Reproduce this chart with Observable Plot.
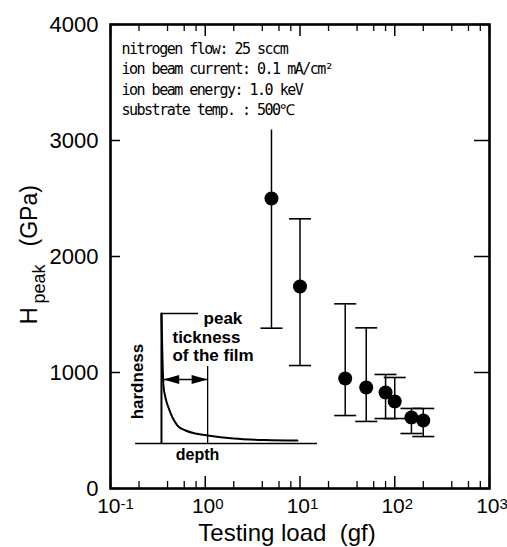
<!DOCTYPE html>
<html><head><meta charset="utf-8">
<script src="https://cdn.jsdelivr.net/npm/d3@7"></script>
<script src="https://cdn.jsdelivr.net/npm/@observablehq/plot@0.6"></script>
<style>
body{margin:0;background:#fff}
#chart svg{display:block}
svg text{white-space:pre}
svg g[font-family*="Mono"] text{letter-spacing:-1.5px}
</style>
</head><body><div id="chart"></div>
<script>
// ---- data ----
const loads = [5, 10, 30, 50, 80, 100, 150, 200];
const hPeak = [2500, 1741, 948, 871, 828, 750, 612, 586];
const hHigh = [3090, 2325, 1592, 1385, 983, 957, 690, 690];
const hLow  = [1382, 1060, 629, 578, 603, 603, 474, 448];
const topCapped = [false, true, true, true, true, true, true, true];

const yTicks = [0, 1000, 2000, 3000, 4000];
const xDecades = [0.1, 1, 10, 100, 1000];
const xExponents = ["-1", "0", "1", "2", "3"];
const xMinor = [0.2,0.4,0.6,0.8, 2,4,6,8, 20,40,60,80, 200,400,600,800];

const conditions = [
  "nitrogen flow: 25 sccm",
  "ion beam current: 0.1 mA/cm²",
  "ion beam energy: 1.0 keV",
  "substrate temp. : 500℃"
];

// inset schematic (hardness vs depth), in chart data units
const curveX = [0.345, 0.354, 0.362, 0.38, 0.409, 0.451, 0.509, 0.62, 0.789, 1.06, 1.99, 4.32, 9.4];
const curveY = [1509, 1103, 888, 784, 698, 612, 543, 500, 474, 457, 431, 418, 414];
const insetBaseX = [0.184, 15.3];
const insetBaseY = 388;
const insetAxisX = 0.345;
const insetTopY = 1509;
const peakLeaderX2 = 0.85;
const filmX = 1.06;
const filmTopY = 1052;
const arrowY = 940;
const arrowX = [0.36, 1.06];
const insetLabels = [
  {x: 0.96, y: 1466, text: "peak"},
  {x: 0.451, y: 1302, text: "tickness"},
  {x: 0.451, y: 1147, text: "of the film"}
];
const hardnessLabel = {x: 0.193, y: 922, text: "hardness"};
const depthLabel = {x: 0.828, y: 293, text: "depth"};

// ---- layout ----
const W = 507, H = 547;
const mL = 110, mR = 18, mT = 24, mB = 59;
const innerW = W - mL - mR;
const innerH = H - mT - mB;
const sans = "'Liberation Sans', Arial, Helvetica, sans-serif";
const mono = "'DejaVu Sans Mono', 'Liberation Mono', monospace";

const pts = loads.map((x, i) => ({x, y: hPeak[i], hi: hHigh[i], lo: hLow[i], cap: topCapped[i]}));
const curve = curveX.map((x, i) => ({x, y: curveY[i]}));

const capSymbol = {draw(ctx) { ctx.moveTo(-11, 0); ctx.lineTo(11, 0); }};
const headSymbol = {draw(ctx) { ctx.moveTo(8, 0); ctx.lineTo(-8, -4.5); ctx.lineTo(-8, 4.5); ctx.closePath(); }};

const chart = Plot.plot({
  width: W, height: H,
  marginLeft: mL, marginRight: mR, marginTop: mT, marginBottom: mB,
  x: {type: "log", domain: [0.1, 1000], axis: null},
  y: {domain: [0, 4000], axis: null},
  style: {fontFamily: sans, background: "#fff", color: "#000"},
  marks: [
    // inset schematic
    Plot.ruleY([insetBaseY], {x1: insetBaseX[0], x2: insetBaseX[1], stroke: "#000", strokeWidth: 1.5}),
    Plot.ruleX([insetAxisX], {y1: insetBaseY, y2: insetTopY, stroke: "#000", strokeWidth: 2}),
    Plot.ruleY([insetTopY], {x1: insetAxisX, x2: peakLeaderX2, stroke: "#000", strokeWidth: 1.5}),
    Plot.ruleX([filmX], {y1: insetBaseY, y2: filmTopY, stroke: "#000", strokeWidth: 1.3}),
    Plot.line(curve, {x: "x", y: "y", curve: "monotone-x", stroke: "#000", strokeWidth: 2}),
    Plot.ruleY([arrowY], {x1: arrowX[0], x2: arrowX[1], stroke: "#000", strokeWidth: 1.5}),
    Plot.dot([arrowX[1]], {x: d => d, y: arrowY, dx: -8, symbol: headSymbol, fill: "#000", stroke: "none"}),
    Plot.dot([arrowX[0]], {x: d => d, y: arrowY, dx: 8, rotate: 180, symbol: headSymbol, fill: "#000", stroke: "none"}),
    Plot.text(insetLabels, {x: "x", y: "y", text: "text", textAnchor: "start", fontSize: 17, fontWeight: "bold"}),
    Plot.text([hardnessLabel], {x: "x", y: "y", text: "text", rotate: -90, fontSize: 17, fontWeight: "bold"}),
    Plot.text([depthLabel], {x: "x", y: "y", text: "text", fontSize: 16, fontWeight: "bold"}),

    // condition annotations
    Plot.text([conditions.join("\n")], {frameAnchor: "top-left", textAnchor: "start", lineAnchor: "top",
      lineHeight: 1.36, dx: 11, dy: 15, fontFamily: mono, fontSize: 15}),

    // error bars
    Plot.ruleX(pts, {x: "x", y1: "lo", y2: "hi", stroke: "#000", strokeWidth: 1.5}),
    Plot.dot(pts.filter(d => d.cap), {x: "x", y: "hi", symbol: capSymbol, stroke: "#000", fill: "none", strokeWidth: 1.6}),
    Plot.dot(pts, {x: "x", y: "lo", symbol: capSymbol, stroke: "#000", fill: "none", strokeWidth: 1.6}),
    Plot.dot(pts, {x: "x", y: "y", r: 7, fill: "#000", stroke: "none"}),

    // inward ticks
    Plot.tickX(xDecades, {x: d => d, insetTop: innerH - 12, stroke: "#000", strokeWidth: 1.5}),
    Plot.tickX(xDecades, {x: d => d, insetBottom: innerH - 12, stroke: "#000", strokeWidth: 1.5}),
    Plot.tickX(xMinor, {x: d => d, insetTop: innerH - 7, stroke: "#000", strokeWidth: 1.3}),
    Plot.tickX(xMinor, {x: d => d, insetBottom: innerH - 7, stroke: "#000", strokeWidth: 1.3}),
    Plot.tickY(yTicks, {y: d => d, insetRight: innerW - 10, stroke: "#000", strokeWidth: 1.5}),
    Plot.tickY(yTicks, {y: d => d, insetLeft: innerW - 15, stroke: "#000", strokeWidth: 1.5}),

    Plot.frame({stroke: "#000", strokeWidth: 2.6}),

    // tick labels
    Plot.text(yTicks, {y: d => d, frameAnchor: "left", text: d => String(d), textAnchor: "end", dx: -12, fontSize: 22}),
    Plot.text(xDecades, {x: d => d, frameAnchor: "bottom", text: () => "10", textAnchor: "end", lineAnchor: "bottom", dx: 10, dy: 24, fontSize: 21}),
    Plot.text(xDecades, {x: d => d, frameAnchor: "bottom", text: (d, i) => xExponents[i], textAnchor: "start", lineAnchor: "bottom", dx: 10, dy: 20, fontSize: 15}),

    // axis titles
    Plot.text(["Testing load  (gf)"], {frameAnchor: "bottom", lineAnchor: "bottom", dx: -13, dy: 52, fontSize: 24}),
    Plot.text(["H"], {frameAnchor: "left", rotate: -90, textAnchor: "start", lineAnchor: "bottom", dx: -74, dy: 68, fontSize: 24}),
    Plot.text(["peak"], {frameAnchor: "left", rotate: -90, textAnchor: "start", lineAnchor: "bottom", dx: -66, dy: 47, fontSize: 18}),
    Plot.text(["(GPa)"], {frameAnchor: "left", rotate: -90, textAnchor: "start", lineAnchor: "bottom", dx: -74, dy: -10, fontSize: 23})
  ]
});
document.getElementById("chart").appendChild(chart);
</script>
</body></html>
